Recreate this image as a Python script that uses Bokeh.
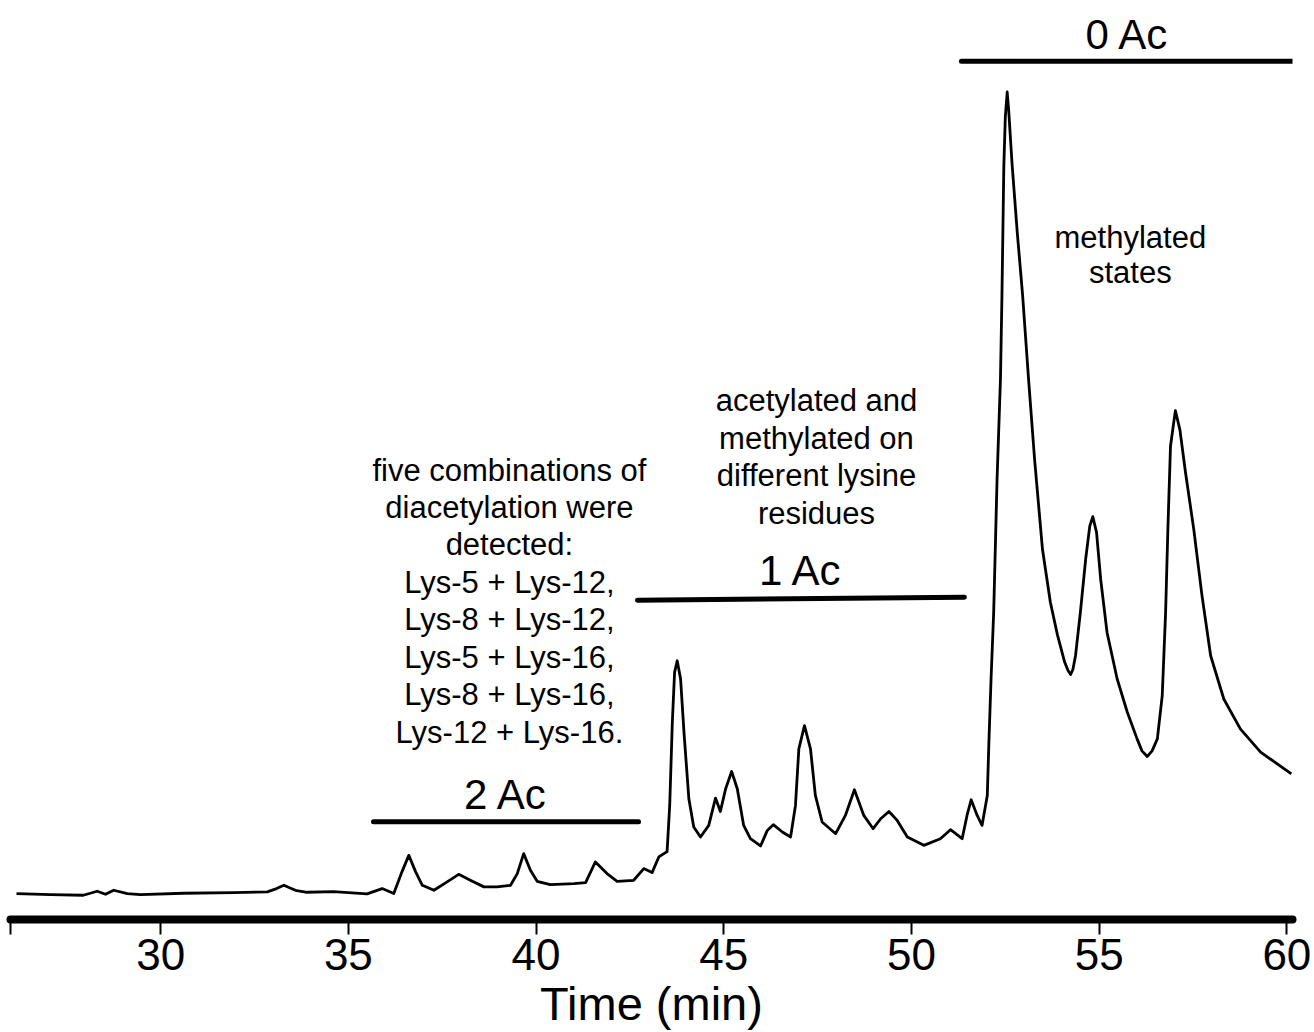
from bokeh.plotting import figure
from bokeh.models import ColumnDataSource, FixedTicker, Range1d
from bokeh.core.properties import value
from bokeh.embed import file_html
from bokeh.resources import INLINE

# ---------------- data ----------------
time_min = [
    26.16, 27.07, 27.94, 28.31, 28.53, 28.75, 29.11, 29.46, 30.61, 31.94,
    32.84, 33.09, 33.28, 33.59, 33.90, 34.60, 35.50, 35.90, 36.21, 36.43,
    36.61, 36.79, 36.97, 37.28, 37.63, 37.94, 38.25, 38.61, 38.96, 39.32,
    39.50, 39.67, 39.85, 40.03, 40.38, 41.01, 41.32, 41.58, 41.89, 42.16,
    42.60, 42.87, 43.09, 43.27, 43.49, 43.56, 43.63, 43.69, 43.76, 43.85,
    43.94, 44.07, 44.20, 44.38, 44.60, 44.78, 44.91, 45.05, 45.21, 45.36,
    45.53, 45.71, 45.98, 46.16, 46.32, 46.56, 46.78, 46.91, 47.00, 47.15,
    47.31, 47.44, 47.62, 47.98, 48.24, 48.48, 48.73, 48.98, 49.18, 49.40,
    49.62, 49.89, 50.33, 50.77, 51.04, 51.35, 51.48, 51.59, 51.75, 51.88,
    52.02, 52.06, 52.12, 52.19, 52.28, 52.37, 52.41, 52.46, 52.50, 52.55,
    52.59, 52.68, 52.82, 52.96, 53.12, 53.28, 53.49, 53.70, 53.89, 54.08,
    54.17, 54.24, 54.30, 54.37, 54.50, 54.64, 54.75, 54.83, 54.93, 55.04,
    55.21, 55.48, 55.75, 56.01, 56.14, 56.28, 56.41, 56.55, 56.68, 56.77,
    56.83, 56.90, 57.03, 57.15, 57.30, 57.52, 57.74, 57.97, 58.32, 58.76,
    59.30, 60.12,
]
signal = [
    2.60, 2.50, 2.43, 2.83, 2.53, 2.93, 2.60, 2.50, 2.63, 2.70,
    2.77, 3.10, 3.43, 2.93, 2.73, 2.80, 2.57, 3.10, 2.60, 4.80,
    6.43, 4.80, 3.43, 2.93, 3.77, 4.53, 3.93, 3.27, 3.27, 3.43,
    4.60, 6.60, 4.93, 3.83, 3.50, 3.60, 3.70, 5.77, 4.60, 3.83,
    3.93, 5.10, 4.70, 6.27, 6.80, 11.43, 19.77, 24.77, 25.93, 24.10,
    18.77, 12.10, 9.27, 8.27, 9.43, 12.17, 10.83, 13.10, 14.83, 13.10,
    9.43, 8.10, 7.37, 8.93, 9.50, 8.77, 8.27, 11.43, 17.10, 19.43,
    17.10, 12.43, 9.77, 8.60, 10.43, 13.00, 10.43, 9.10, 10.10, 10.83,
    9.93, 8.27, 7.43, 8.10, 9.00, 8.10, 10.43, 12.00, 10.43, 9.43,
    12.43, 17.43, 24.10, 30.77, 44.10, 54.10, 62.43, 75.43, 80.43, 82.93,
    81.10, 75.70, 68.77, 62.60, 54.10, 46.10, 37.10, 31.80, 28.50, 25.80,
    24.95, 24.55, 25.05, 26.43, 30.80, 36.10, 39.43, 40.37, 38.80, 34.10,
    28.77, 24.10, 20.77, 18.10, 16.90, 16.33, 16.90, 18.10, 22.43, 30.80,
    39.10, 47.43, 51.00, 49.10, 44.80, 39.10, 32.43, 26.43, 22.10, 19.10,
    16.77, 14.60,
]

tick_values = [26, 30, 35, 40, 45, 50, 55, 60]
tick_texts = ["", "30", "35", "40", "45", "50", "55", "60"]

# acetylation-state ranges (time, min)
state_labels = ["2 Ac", "1 Ac", "0 Ac"]
state_start = [35.67, 42.70, 51.33]
state_end = [42.73, 51.41, 60.18]

notes = [
    "five combinations of\ndiacetylation were\ndetected:\nLys-5 + Lys-12,\nLys-8 + Lys-12,\nLys-5 + Lys-16,\nLys-8 + Lys-16,\nLys-12 + Lys-16.",
    "acetylated and\nmethylated on\ndifferent lysine\nresidues",
]
note_states = "methylated\nstates"

# ---------------- layout / styling ----------------
FONT = "Liberation Sans"
bar_y0 = [9.8, 32.0, 86.0]
bar_y1 = [9.8, 32.3, 86.0]
label_y = [12.55, 35.0, 88.7]
note_x = [39.29, 47.47]
note_y = [46.8, 53.75]

p = figure(width=1314, height=1032, output_backend="svg", toolbar_location=None,
           x_range=Range1d(26.0, 60.15), y_range=Range1d(0, 92.1),
           y_axis_location=None, min_border_left=10, min_border_right=22,
           min_border_top=0, min_border_bottom=0)
p.background_fill_color = "white"
p.border_fill_color = "white"
p.outline_line_color = None
p.grid.visible = False

p.line(time_min, signal, line_color="black", line_width=2.8, line_join="round")

bars = ColumnDataSource(dict(x0=state_start, x1=state_end, y0=bar_y0, y1=bar_y1))
p.segment("x0", "y0", "x1", "y1", source=bars, line_color="black", line_width=5,
          line_cap="round")

lab = ColumnDataSource(dict(x=[(a + b) / 2 for a, b in zip(state_start, state_end)],
                            y=label_y, t=state_labels))
p.text("x", "y", text="t", source=lab, text_align="center", text_baseline="middle",
       text_font=value(FONT), text_font_size="42px", text_color="black")

nsrc = ColumnDataSource(dict(x=note_x, y=note_y, t=notes))
p.text("x", "y", text="t", source=nsrc, text_align="center", text_baseline="top",
       text_font=value(FONT), text_font_size="31px", text_line_height=1.07,
       text_color="black")

p.text([55.83], [70.1], text=[note_states], text_align="center", text_baseline="top",
       text_font=value(FONT), text_font_size="31px", text_line_height=1.0,
       text_color="black")

ax = p.xaxis[0]
ax.ticker = FixedTicker(ticks=tick_values)
ax.major_label_overrides = {v: t for v, t in zip(tick_values, tick_texts)}
ax.minor_tick_line_color = None
ax.axis_line_width = 8
ax.axis_line_cap = "round"
ax.axis_line_color = "black"
ax.major_tick_line_width = 2
ax.major_tick_line_color = "black"
ax.major_tick_out = 15
ax.major_tick_in = 0
ax.major_label_text_font = FONT
ax.major_label_text_font_size = "44px"
ax.major_label_text_color = "black"
ax.major_label_standoff = 4
ax.axis_label = "Time (min)"
ax.axis_label_text_font = FONT
ax.axis_label_text_font_size = "47px"
ax.axis_label_text_font_style = "normal"
ax.axis_label_text_color = "black"
ax.axis_label_standoff = 4

open("out.html", "w").write(file_html(p, INLINE))
